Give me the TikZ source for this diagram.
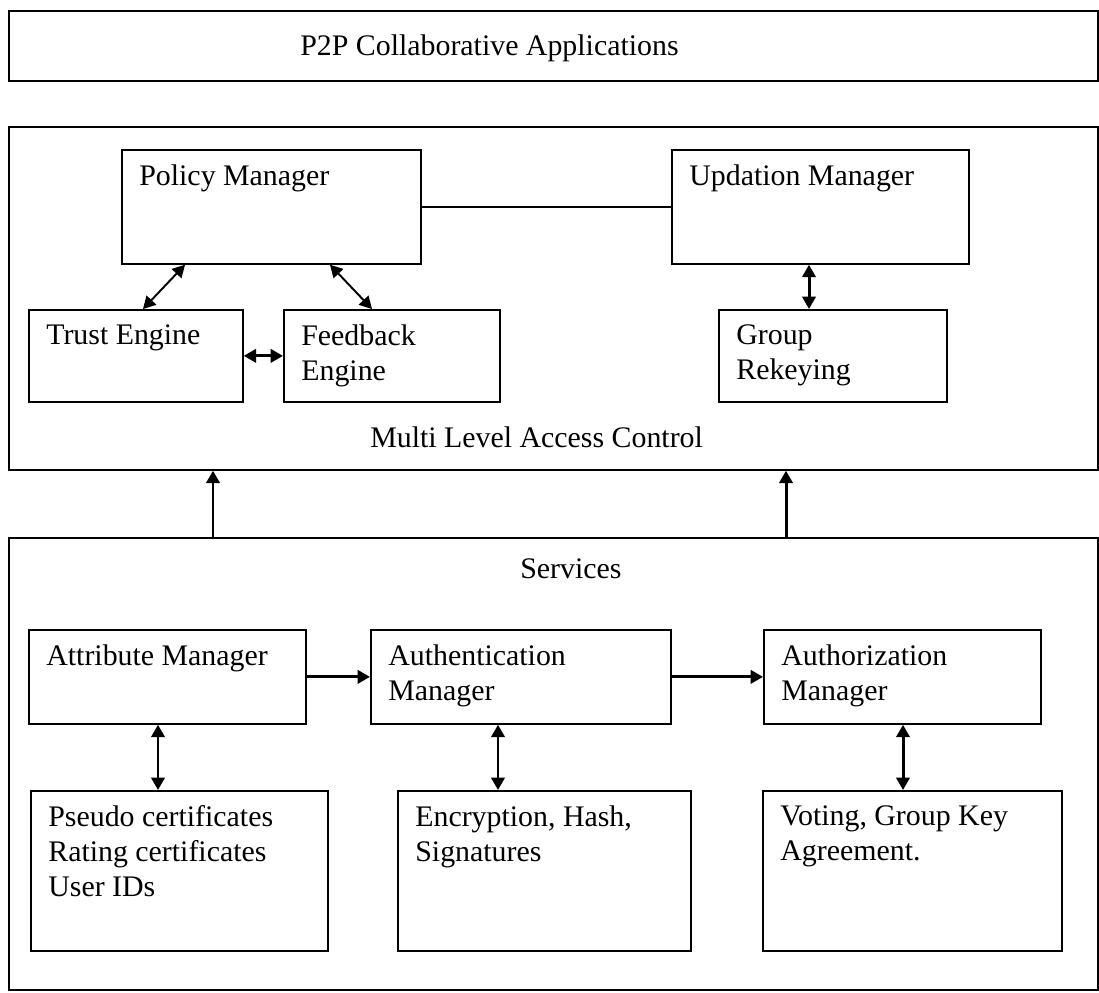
\documentclass[tikz,border=0pt]{standalone}
\usepackage{fontspec}
\setmainfont{Liberation Serif}
\usetikzlibrary{arrows.meta}
\begin{document}
\begin{tikzpicture}
[x=0.02cm, y=-0.02cm,
 box/.style={draw, line width=1pt, anchor=north west, inner sep=0pt},
 txt/.style={anchor=north west, inner sep=0pt, align=left, font=\fontsize{17}{20}\selectfont},
 lbl/.style={txt, xshift=0.36cm, yshift=-0.3cm},
 dbl/.style={{Triangle[length=7pt,width=7.5pt]}-{Triangle[length=7pt,width=7.5pt]}, line width=1.7pt},
 thin dbl/.style={dbl, line width=1.1pt},
 up/.style={-{Triangle[length=7pt,width=7.5pt]}, line width=1.7pt}]
\useasboundingbox (0,0) rectangle (1099,992);
% outer layers
\node[box, line width=1.2pt, minimum width=21.78cm, minimum height=1.4cm,
  label={[txt, xshift=5.84cm, yshift=-0.48cm]north west:P2P Collaborative Applications}] (app) at (8,10) {};
\node[box, minimum width=21.78cm, minimum height=6.86cm,
  label={[txt, xshift=7.24cm, yshift=-6.0cm]north west:Multi Level Access Control}] (mlac) at (8,126) {};
\node[box, minimum width=21.78cm, minimum height=9.04cm,
  label={[txt, xshift=10.24cm, yshift=-0.42cm]north west:Services}] (svc) at (8,537) {};
% access control
\node[box, minimum width=5.98cm, minimum height=2.28cm, label={[lbl]north west:Policy Manager}] (pm) at (121,149) {};
\node[box, minimum width=5.94cm, minimum height=2.28cm, label={[lbl]north west:Updation Manager}] (um) at (671,149) {};
\node[box, minimum width=4.28cm, minimum height=1.84cm, label={[lbl]north west:Trust Engine}] (te) at (28,309) {};
\node[box, minimum width=4.32cm, minimum height=1.84cm, label={[lbl]north west:{Feedback\\Engine}}] (fe) at (283,309) {};
\node[box, minimum width=4.56cm, minimum height=1.84cm, label={[lbl]north west:{Group\\Rekeying}}] (gr) at (718,309) {};
\draw[line width=1pt] (pm.east) -- (um.west);
\draw[thin dbl] (185,0 |- pm.south) -- (143,0 |- te.north);
\draw[thin dbl] (330,0 |- pm.south) -- (372,0 |- fe.north);
\draw[dbl] (te.east) -- (fe.west);
\draw[dbl] (809,0 |- um.south) -- (809,0 |- gr.north);
% services
\node[box, minimum width=5.54cm, minimum height=1.88cm, label={[lbl]north west:Attribute Manager}] (am) at (28,629) {};
\node[box, minimum width=6.0cm, minimum height=1.88cm, label={[lbl]north west:{Authentication\\Manager}}] (aum) at (370,629) {};
\node[box, minimum width=5.54cm, minimum height=1.88cm, label={[lbl]north west:{Authorization\\Manager}}] (azm) at (763,629) {};
\node[box, minimum width=5.94cm, minimum height=3.2cm,
  label={[lbl]north west:{Pseudo certificates\\Rating certificates\\User IDs}}] (pc) at (30,790) {};
\node[box, minimum width=5.86cm, minimum height=3.2cm,
  label={[lbl]north west:{Encryption, Hash,\\Signatures}}] (ehs) at (397,790) {};
\node[box, minimum width=5.98cm, minimum height=3.2cm,
  label={[lbl]north west:{Voting, Group Key\\Agreement.}}] (vga) at (762,790) {};
\draw[up] (am.east) -- (aum.west);
\draw[up] (aum.east) -- (azm.west);
\draw[dbl] (158,0 |- am.south) -- (158,0 |- pc.north);
\draw[dbl] (498,0 |- aum.south) -- (498,0 |- ehs.north);
\draw[dbl] (903,0 |- azm.south) -- (903,0 |- vga.north);
% services to access control
\draw[up] (213,0 |- svc.north) -- (213,0 |- mlac.south);
\draw[up] (786,0 |- svc.north) -- (786,0 |- mlac.south);
\end{tikzpicture}
\end{document}
